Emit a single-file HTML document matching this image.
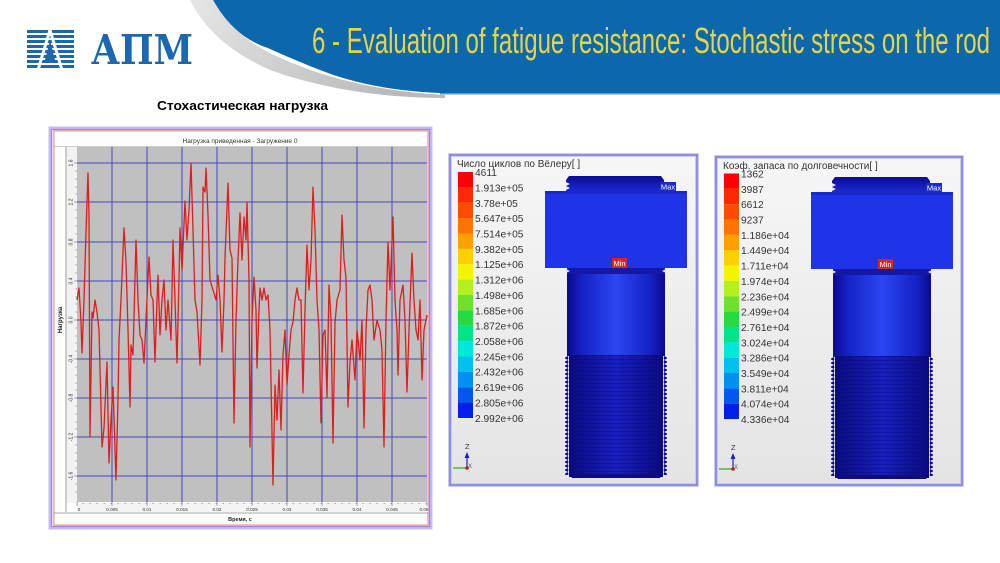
<!DOCTYPE html>
<html>
<head>
<meta charset="utf-8">
<style>
html,body{margin:0;padding:0;background:#fff;}
body{width:1000px;height:563px;overflow:hidden;}
svg{display:block;}
text{font-family:"Liberation Sans","Noto Sans CJK SC",sans-serif;}
</style>
</head>
<body>
<svg width="1000" height="563" viewBox="0 0 1000 563" xmlns="http://www.w3.org/2000/svg">
<defs>
  <linearGradient id="swoosh" x1="0" y1="0" x2="1" y2="0.3">
    <stop offset="0" stop-color="#e6e6e6"/>
    <stop offset="1" stop-color="#b9b9b9"/>
  </linearGradient>
  <linearGradient id="panelbg" x1="0" y1="0" x2="0" y2="1">
    <stop offset="0" stop-color="#f6f6f6"/>
    <stop offset="1" stop-color="#e4e4e4"/>
  </linearGradient>
  <linearGradient id="shaft" x1="0" y1="0" x2="1" y2="0">
    <stop offset="0" stop-color="#0a0a8c"/>
    <stop offset="0.15" stop-color="#1622c4"/>
    <stop offset="0.5" stop-color="#2a46f2"/>
    <stop offset="0.85" stop-color="#1622c4"/>
    <stop offset="1" stop-color="#0a0a8c"/>
  </linearGradient>
  <linearGradient id="thread" x1="0" y1="0" x2="1" y2="0">
    <stop offset="0" stop-color="#0a0a80"/>
    <stop offset="0.5" stop-color="#1820c0"/>
    <stop offset="1" stop-color="#0a0a80"/>
  </linearGradient>
  <linearGradient id="cap" x1="0" y1="0" x2="0" y2="1">
    <stop offset="0" stop-color="#0c0c90"/>
    <stop offset="1" stop-color="#1a28d0"/>
  </linearGradient>
  <pattern id="thl" patternUnits="userSpaceOnUse" x="0" y="355" width="10" height="4">
    <rect x="0" y="0" width="10" height="1" fill="#0a0a70" opacity="0.45"/>
  </pattern>
  <pattern id="teethL" patternUnits="userSpaceOnUse" x="0" y="356" width="4" height="4">
    <polygon points="4,0 0,2 4,4" fill="#0c0c90"/>
  </pattern>
  <pattern id="teethR" patternUnits="userSpaceOnUse" x="0" y="356" width="4" height="4">
    <polygon points="0,0 4,2 0,4" fill="#0c0c90"/>
  </pattern>
</defs>

<!-- ===== Header ===== -->
<path d="M190,0 L213,0 C232,34 262,52 300,66 C340,82 390,92 445,95 L445,98 C380,98 320,88 270,70 C230,52 205,30 190,0 Z" fill="url(#swoosh)"/>
<path d="M213,0 C230,30 250,42 268,48 C290,58 305,64 320,70 C350,82 390,91 440,93 L1000,93 L1000,0 Z" fill="#0d67ab"/>
<rect x="440" y="93" width="560" height="1.5" fill="#5a9ad0"/>
<text x="312" y="53" font-size="36" fill="#e6d447" textLength="678" lengthAdjust="spacingAndGlyphs" style="font-family:'Liberation Sans Narrow','Liberation Sans',sans-serif">6 - Evaluation of fatigue resistance: Stochastic stress on the rod</text>

<!-- Logo -->
<g fill="#1c68b0">
  <rect x="27" y="30" width="47" height="3"/>
  <rect x="27" y="35" width="47" height="3"/>
  <rect x="27" y="40" width="47" height="3"/>
  <rect x="27" y="45" width="47" height="3"/>
  <rect x="27" y="50" width="47" height="3"/>
  <rect x="27" y="55" width="47" height="3"/>
  <rect x="27" y="60" width="47" height="3"/>
  <rect x="27" y="65" width="47" height="3"/>
</g>
<g stroke="#ffffff" stroke-width="3" fill="none">
  <line x1="50" y1="30" x2="38" y2="70"/>
  <line x1="50" y1="30" x2="62" y2="70"/>
</g>
<polygon points="50,40 45,60 55,60" fill="#1c68b0"/>
<text x="91" y="64" font-size="41" font-weight="bold" fill="#1c68b0" textLength="102" lengthAdjust="spacingAndGlyphs" style="font-family:'DejaVu Serif','Liberation Serif',serif">АПМ</text>

<!-- Subtitle -->
<text x="157" y="110" font-size="12.5" font-weight="bold" fill="#000" textLength="171" lengthAdjust="spacingAndGlyphs">Стохастическая нагрузка</text>

<!-- ===== Chart ===== -->
<rect x="50" y="128" width="381" height="400" fill="#ece8fa" stroke="#c8b8f0" stroke-width="3"/>
<rect x="51.5" y="129.5" width="378" height="397" fill="none" stroke="#9c88dc" stroke-width="1.2"/>
<rect x="54" y="131" width="374" height="394" fill="#ffffff" stroke="#e48a8a" stroke-width="1"/>
<text x="240" y="143" font-size="6.5" fill="#333" text-anchor="middle">Нагрузка приведенная - Загружение 0</text>
<line x1="54" y1="146.5" x2="428" y2="146.5" stroke="#999" stroke-width="0.6"/>
<rect x="66" y="147" width="11" height="356" fill="#f2f2f2"/>
<line x1="66" y1="147" x2="66" y2="512" stroke="#888" stroke-width="0.8"/>
<text transform="translate(62,320) rotate(-90)" font-size="6" font-weight="bold" fill="#222" text-anchor="middle">Нагрузка</text>
<!-- plot area -->
<rect x="77" y="147" width="350" height="355" fill="#c0c0c0"/>
<g stroke="#4646bc" stroke-width="1">
  <line x1="77" y1="163" x2="427" y2="163"/>
  <line x1="77" y1="202" x2="427" y2="202"/>
  <line x1="77" y1="242" x2="427" y2="242"/>
  <line x1="77" y1="281" x2="427" y2="281"/>
  <line x1="77" y1="320" x2="427" y2="320"/>
  <line x1="77" y1="359" x2="427" y2="359"/>
  <line x1="77" y1="398" x2="427" y2="398"/>
  <line x1="77" y1="437" x2="427" y2="437"/>
  <line x1="77" y1="476" x2="427" y2="476"/>
  <line x1="112" y1="147" x2="112" y2="502"/>
  <line x1="147" y1="147" x2="147" y2="502"/>
  <line x1="182" y1="147" x2="182" y2="502"/>
  <line x1="217" y1="147" x2="217" y2="502"/>
  <line x1="252" y1="147" x2="252" y2="502"/>
  <line x1="287" y1="147" x2="287" y2="502"/>
  <line x1="322" y1="147" x2="322" y2="502"/>
  <line x1="357" y1="147" x2="357" y2="502"/>
  <line x1="392" y1="147" x2="392" y2="502"/>
</g>
<polyline fill="none" stroke="#e01c1c" stroke-width="1.3" stroke-linejoin="round" points="77,300 79,288 81,322 82,353 84,300 86,232 88,173 89,215 90,437 92,312 93,318 95,300 97,312 99,330 102,447 104,428 107,362 109,463 111,420 113,387 116,480 118,400 119,340 121,300 124,228 126,262 128,330 130,407 131,345 133,355 136,240 138,300 140,335 142,340 144,363 146,320 149,257 151,295 153,300 155,362 157,300 158,275 160,335 162,300 164,280 166,330 168,300 171,340 173,240 175,300 177,363 179,280 180,228 182,270 185,201 187,240 189,210 191,163 193,230 195,300 197,312 200,365 202,300 203,187 205,192 206,168 208,215 210,280 213,290 216,300 218,275 220,300 222,352 224,300 225,258 228,183 230,250 232,258 234,423 236,320 238,260 240,213 242,260 244,217 246,240 247,202 249,280 250,447 252,320 254,277 256,310 257,368 259,310 260,288 262,300 264,288 266,300 268,295 270,330 273,485 275,385 277,420 279,370 281,430 283,355 285,330 287,385 289,355 291,330 293,322 295,300 297,288 299,300 301,300 303,393 305,310 307,245 309,290 311,260 313,187 315,230 317,300 319,330 321,423 323,335 325,330 327,397 329,285 331,320 333,443 335,323 337,300 340,290 342,215 344,260 346,278 348,407 350,362 352,340 355,380 357,330 360,360 362,320 364,428 366,330 368,290 370,285 372,300 374,340 377,320 380,330 382,350 384,447 386,320 388,242 390,290 393,217 395,300 397,330 398,375 400,300 403,285 405,320 407,392 409,330 412,253 414,300 416,330 418,340 420,300 422,380 424,330 426,320 427,315"/>
<!-- y ticks -->
<g stroke="#555" stroke-width="0.5">
  <line x1="74" y1="163" x2="77" y2="163"/><line x1="74" y1="202" x2="77" y2="202"/><line x1="74" y1="242" x2="77" y2="242"/>
  <line x1="74" y1="281" x2="77" y2="281"/><line x1="74" y1="320" x2="77" y2="320"/><line x1="74" y1="359" x2="77" y2="359"/>
  <line x1="74" y1="398" x2="77" y2="398"/><line x1="74" y1="437" x2="77" y2="437"/><line x1="74" y1="476" x2="77" y2="476"/>
  <line x1="75.5" y1="171" x2="77" y2="171"/><line x1="75.5" y1="179" x2="77" y2="179"/><line x1="75.5" y1="187" x2="77" y2="187"/><line x1="75.5" y1="194" x2="77" y2="194"/>
  <line x1="75.5" y1="210" x2="77" y2="210"/><line x1="75.5" y1="218" x2="77" y2="218"/><line x1="75.5" y1="226" x2="77" y2="226"/><line x1="75.5" y1="234" x2="77" y2="234"/>
  <line x1="75.5" y1="250" x2="77" y2="250"/><line x1="75.5" y1="257" x2="77" y2="257"/><line x1="75.5" y1="265" x2="77" y2="265"/><line x1="75.5" y1="273" x2="77" y2="273"/>
  <line x1="75.5" y1="289" x2="77" y2="289"/><line x1="75.5" y1="297" x2="77" y2="297"/><line x1="75.5" y1="304" x2="77" y2="304"/><line x1="75.5" y1="312" x2="77" y2="312"/>
  <line x1="75.5" y1="328" x2="77" y2="328"/><line x1="75.5" y1="336" x2="77" y2="336"/><line x1="75.5" y1="343" x2="77" y2="343"/><line x1="75.5" y1="351" x2="77" y2="351"/>
  <line x1="75.5" y1="367" x2="77" y2="367"/><line x1="75.5" y1="375" x2="77" y2="375"/><line x1="75.5" y1="383" x2="77" y2="383"/><line x1="75.5" y1="390" x2="77" y2="390"/>
  <line x1="75.5" y1="406" x2="77" y2="406"/><line x1="75.5" y1="414" x2="77" y2="414"/><line x1="75.5" y1="422" x2="77" y2="422"/><line x1="75.5" y1="429" x2="77" y2="429"/>
  <line x1="75.5" y1="445" x2="77" y2="445"/><line x1="75.5" y1="453" x2="77" y2="453"/><line x1="75.5" y1="461" x2="77" y2="461"/><line x1="75.5" y1="468" x2="77" y2="468"/>
  <line x1="75.5" y1="484" x2="77" y2="484"/><line x1="75.5" y1="492" x2="77" y2="492"/>
</g>
<g font-size="5" fill="#333" text-anchor="middle">
  <text transform="translate(72.5,163) rotate(-90)">1.6</text>
  <text transform="translate(72.5,202) rotate(-90)">1.2</text>
  <text transform="translate(72.5,242) rotate(-90)">0.8</text>
  <text transform="translate(72.5,281) rotate(-90)">0.4</text>
  <text transform="translate(72.5,320) rotate(-90)">0.0</text>
  <text transform="translate(72.5,359) rotate(-90)">-0.4</text>
  <text transform="translate(72.5,398) rotate(-90)">-0.8</text>
  <text transform="translate(72.5,437) rotate(-90)">-1.2</text>
  <text transform="translate(72.5,476) rotate(-90)">-1.6</text>
</g>
<!-- x axis -->
<rect x="77" y="502" width="351" height="10" fill="#f4f4f4"/>
<g stroke="#555" stroke-width="0.5">
  <line x1="77" y1="502" x2="77" y2="506"/><line x1="112" y1="502" x2="112" y2="506"/><line x1="147" y1="502" x2="147" y2="506"/>
  <line x1="182" y1="502" x2="182" y2="506"/><line x1="217" y1="502" x2="217" y2="506"/><line x1="252" y1="502" x2="252" y2="506"/>
  <line x1="287" y1="502" x2="287" y2="506"/><line x1="322" y1="502" x2="322" y2="506"/><line x1="357" y1="502" x2="357" y2="506"/>
  <line x1="392" y1="502" x2="392" y2="506"/><line x1="427" y1="502" x2="427" y2="506"/>
</g>
<g stroke="#666" stroke-width="0.5" stroke-dasharray="1.5 5.5">
  <line x1="77" y1="503.5" x2="427" y2="503.5" stroke-dashoffset="-5.5"/>
</g>
<g font-size="4.6" fill="#333" text-anchor="middle">
  <text x="79" y="511">0</text>
  <text x="112" y="511">0.005</text>
  <text x="147" y="511">0.01</text>
  <text x="182" y="511">0.015</text>
  <text x="217" y="511">0.02</text>
  <text x="252" y="511">0.025</text>
  <text x="287" y="511">0.03</text>
  <text x="322" y="511">0.035</text>
  <text x="357" y="511">0.04</text>
  <text x="392" y="511">0.045</text>
  <text x="424" y="511">0.05</text>
</g>
<line x1="54" y1="513" x2="428" y2="513" stroke="#888" stroke-width="0.7"/>
<text x="240" y="521" font-size="5.5" font-weight="bold" fill="#222" text-anchor="middle">Время, с</text>

<!-- ===== Panel 1 ===== -->
<rect x="450" y="155" width="247" height="330" fill="url(#panelbg)" stroke="#c9c9f2" stroke-width="4"/>
<rect x="450" y="155" width="247" height="330" fill="none" stroke="#7c7cd6" stroke-width="1.5"/>
<text x="457" y="167" font-size="10" fill="#333">Число циклов по Вёлеру[ ]</text>
<g>
  <rect x="458" y="172" width="15" height="15.4" fill="#ff0000"/>
  <rect x="458" y="187.4" width="15" height="15.4" fill="#ff2800"/>
  <rect x="458" y="202.8" width="15" height="15.4" fill="#ff4c00"/>
  <rect x="458" y="218.1" width="15" height="15.4" fill="#ff7400"/>
  <rect x="458" y="233.5" width="15" height="15.4" fill="#ffa000"/>
  <rect x="458" y="248.9" width="15" height="15.4" fill="#ffd000"/>
  <rect x="458" y="264.3" width="15" height="15.4" fill="#f4f400"/>
  <rect x="458" y="279.6" width="15" height="15.4" fill="#b4f020"/>
  <rect x="458" y="295" width="15" height="15.4" fill="#6ee030"/>
  <rect x="458" y="310.4" width="15" height="15.4" fill="#2ad840"/>
  <rect x="458" y="325.8" width="15" height="15.4" fill="#00e48a"/>
  <rect x="458" y="341.1" width="15" height="15.4" fill="#00e8d8"/>
  <rect x="458" y="356.5" width="15" height="15.4" fill="#00c0ee"/>
  <rect x="458" y="371.9" width="15" height="15.4" fill="#0090ee"/>
  <rect x="458" y="387.3" width="15" height="15.4" fill="#0058ee"/>
  <rect x="458" y="402.6" width="15" height="15.4" fill="#0020e8"/>
</g>
<g font-size="10.2" fill="#333">
  <text x="475" y="176">4611</text>
  <text x="475" y="191.5">1.913e+05</text>
  <text x="475" y="206.8">3.78e+05</text>
  <text x="475" y="222.2">5.647e+05</text>
  <text x="475" y="237.5">7.514e+05</text>
  <text x="475" y="252.9">9.382e+05</text>
  <text x="475" y="268.2">1.125e+06</text>
  <text x="475" y="283.6">1.312e+06</text>
  <text x="475" y="299">1.498e+06</text>
  <text x="475" y="314.3">1.685e+06</text>
  <text x="475" y="329.7">1.872e+06</text>
  <text x="475" y="345">2.058e+06</text>
  <text x="475" y="360.4">2.245e+06</text>
  <text x="475" y="375.7">2.432e+06</text>
  <text x="475" y="391.1">2.619e+06</text>
  <text x="475" y="406.4">2.805e+06</text>
  <text x="475" y="421.8">2.992e+06</text>
</g>
<!-- triad 1 -->
<text x="465" y="449" font-size="7.5" fill="#333">Z</text>
<line x1="467" y1="468" x2="467" y2="455" stroke="#2020c0" stroke-width="1.2"/>
<polygon points="467,452 464.5,458 469.5,458" fill="#2020c0"/>
<line x1="453" y1="468" x2="467" y2="468" stroke="#20b020" stroke-width="1.2"/>
<circle cx="467" cy="468" r="1.8" fill="#c02020"/>
<text x="468" y="468" font-size="6" fill="#555">X</text>

<!-- Bolt 1 -->
<g id="bolt1">
  <path d="M569,176 L661,176 L664,180 L664,191 L566,191 L566,180 Z" fill="url(#cap)"/>
  <polygon points="566,182 570,184 566,186 570,188 566,190" fill="#e8e8e8"/>
  <rect x="545" y="191" width="142" height="77" fill="#1f34e6"/>
  <rect x="545" y="191" width="142" height="3" fill="#1a28c8"/>
  <rect x="660" y="182" width="16" height="9" fill="#1c2ad4"/>
  <text x="668" y="189.5" font-size="7.5" fill="#fff" text-anchor="middle">Max</text>
  <rect x="567" y="268" width="98" height="6" fill="#1418a8"/>
  <polygon points="566,269 570,271 566,273" fill="#e4e4e4"/>
  <polygon points="666,269 662,271 666,273" fill="#e4e4e4"/>
  <rect x="612" y="258" width="15" height="10" fill="#d42828"/>
  <text x="619.5" y="266" font-size="7.5" fill="#fff" text-anchor="middle">Min</text>
  <rect x="567" y="274" width="98" height="82" fill="url(#shaft)"/>
  <rect x="569" y="355" width="94" height="122" fill="url(#thread)"/>
  <rect x="569" y="355" width="94" height="122" fill="url(#thl)"/>
  <rect x="565" y="356" width="4" height="119" fill="url(#teethL)"/>
  <rect x="663" y="356" width="4" height="119" fill="url(#teethR)"/>
  <path d="M569,474 L663,474 L660,478 L572,478 Z" fill="#0c0c88"/>
</g>

<!-- ===== Panel 2 ===== -->
<rect x="716" y="157" width="246" height="328" fill="url(#panelbg)" stroke="#c9c9f2" stroke-width="4"/>
<rect x="716" y="157" width="246" height="328" fill="none" stroke="#7c7cd6" stroke-width="1.5"/>
<text x="723" y="169" font-size="10" fill="#333">Коэф. запаса по долговечности[ ]</text>
<g>
  <rect x="724" y="173.5" width="15" height="15.35" fill="#ff0000"/>
  <rect x="724" y="188.85" width="15" height="15.35" fill="#ff2800"/>
  <rect x="724" y="204.2" width="15" height="15.35" fill="#ff4c00"/>
  <rect x="724" y="219.5" width="15" height="15.35" fill="#ff7400"/>
  <rect x="724" y="234.9" width="15" height="15.35" fill="#ffa000"/>
  <rect x="724" y="250.2" width="15" height="15.35" fill="#ffd000"/>
  <rect x="724" y="265.6" width="15" height="15.35" fill="#f4f400"/>
  <rect x="724" y="280.9" width="15" height="15.35" fill="#b4f020"/>
  <rect x="724" y="296.3" width="15" height="15.35" fill="#6ee030"/>
  <rect x="724" y="311.6" width="15" height="15.35" fill="#2ad840"/>
  <rect x="724" y="327" width="15" height="15.35" fill="#00e48a"/>
  <rect x="724" y="342.3" width="15" height="15.35" fill="#00e8d8"/>
  <rect x="724" y="357.7" width="15" height="15.35" fill="#00c0ee"/>
  <rect x="724" y="373" width="15" height="15.35" fill="#0090ee"/>
  <rect x="724" y="388.4" width="15" height="15.35" fill="#0058ee"/>
  <rect x="724" y="403.7" width="15" height="15.35" fill="#0020e8"/>
</g>
<g font-size="10.2" fill="#333">
  <text x="741" y="177.5">1362</text>
  <text x="741" y="192.8">3987</text>
  <text x="741" y="208.2">6612</text>
  <text x="741" y="223.5">9237</text>
  <text x="741" y="238.9">1.186e+04</text>
  <text x="741" y="254.2">1.449e+04</text>
  <text x="741" y="269.6">1.711e+04</text>
  <text x="741" y="284.9">1.974e+04</text>
  <text x="741" y="300.3">2.236e+04</text>
  <text x="741" y="315.6">2.499e+04</text>
  <text x="741" y="331">2.761e+04</text>
  <text x="741" y="346.3">3.024e+04</text>
  <text x="741" y="361.7">3.286e+04</text>
  <text x="741" y="377">3.549e+04</text>
  <text x="741" y="392.4">3.811e+04</text>
  <text x="741" y="407.7">4.074e+04</text>
  <text x="741" y="423.1">4.336e+04</text>
</g>
<!-- triad 2 -->
<text x="731" y="450" font-size="7.5" fill="#333">Z</text>
<line x1="733" y1="469" x2="733" y2="456" stroke="#2020c0" stroke-width="1.2"/>
<polygon points="733,453 730.5,459 735.5,459" fill="#2020c0"/>
<line x1="719" y1="469" x2="733" y2="469" stroke="#20b020" stroke-width="1.2"/>
<circle cx="733" cy="469" r="1.8" fill="#c02020"/>
<text x="734" y="469" font-size="6" fill="#555">X</text>

<!-- Bolt 2 -->
<g transform="translate(266,1)">
  <path d="M569,176 L661,176 L664,180 L664,191 L566,191 L566,180 Z" fill="url(#cap)"/>
  <polygon points="566,182 570,184 566,186 570,188 566,190" fill="#e8e8e8"/>
  <rect x="545" y="191" width="142" height="77" fill="#1f34e6"/>
  <rect x="545" y="191" width="142" height="3" fill="#1a28c8"/>
  <rect x="660" y="182" width="16" height="9" fill="#1c2ad4"/>
  <text x="668" y="189.5" font-size="7.5" fill="#fff" text-anchor="middle">Max</text>
  <rect x="567" y="268" width="98" height="6" fill="#1418a8"/>
  <polygon points="566,269 570,271 566,273" fill="#e4e4e4"/>
  <polygon points="666,269 662,271 666,273" fill="#e4e4e4"/>
  <rect x="612" y="258" width="15" height="10" fill="#d42828"/>
  <text x="619.5" y="266" font-size="7.5" fill="#fff" text-anchor="middle">Min</text>
  <rect x="567" y="274" width="98" height="82" fill="url(#shaft)"/>
  <rect x="569" y="355" width="94" height="122" fill="url(#thread)"/>
  <rect x="569" y="355" width="94" height="122" fill="url(#thl)"/>
  <rect x="565" y="356" width="4" height="119" fill="url(#teethL)"/>
  <rect x="663" y="356" width="4" height="119" fill="url(#teethR)"/>
  <path d="M569,474 L663,474 L660,478 L572,478 Z" fill="#0c0c88"/>
</g>
</svg>
</body>
</html>
